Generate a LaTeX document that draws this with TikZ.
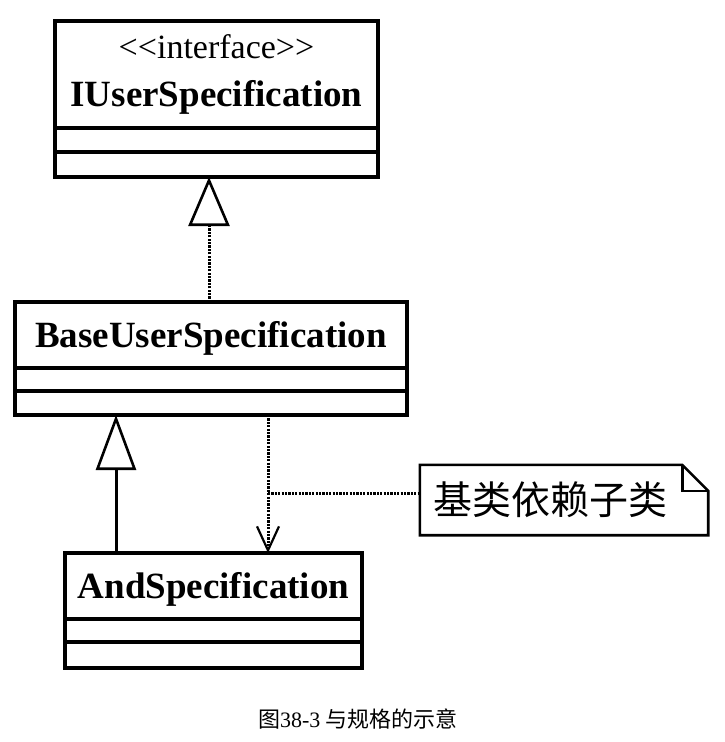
\documentclass[tikz,border=0pt]{standalone}
\usepackage{fontspec}
\setmainfont{Liberation Serif}
\newfontfamily\cjk{Noto Sans CJK SC}
\usepackage{tikz}
\usetikzlibrary{arrows.meta,positioning}

\begin{document}
\begin{tikzpicture}[x=1pt, y=-1pt]
	\tikzstyle{clshead}
	  =[draw, rectangle, line width=3.3pt, outer sep=0pt, inner sep=0pt,
	  font=\fontsize{37}{48}\selectfont\bfseries]
	\tikzstyle{clspart}
	  =[draw, rectangle, line width=3.3pt, outer sep=0pt, inner sep=0pt]
	\tikzstyle{notebox}
	  =[rectangle, inner xsep=13pt, inner ysep=0pt, text width=262pt,
	  minimum height=70pt, align=left, font=\fontsize{39}{44}\selectfont\cjk]
	\tikzstyle{realize}
	  =[line width=3pt, dash pattern=on 2.2pt off 1.2pt,
	  -{Triangle[open, length=49pt, width=41pt, line width=2.6pt]}]
	\tikzstyle{inherit}
	  =[line width=3pt, -{Triangle[open, length=55pt, width=40pt, line width=2.6pt]}]
	\tikzstyle{depend}
	  =[line width=3pt, dash pattern=on 2.2pt off 1.2pt,
	  -{Straight Barb[length=24pt, width=22pt, line width=2.2pt]}]

	\useasboundingbox (0,0) rectangle (724,742);

	\node[clshead, align=center, minimum width=323pt, minimum height=107pt] (iuser)
	  at (216.5,74.5)
	  {{\fontsize{34}{40}\selectfont\mdseries <{}<interface>{}>}\\ IUserSpecification};
	\node[clspart, minimum width=323pt, minimum height=24pt] (iuserattr)
	  [below=0pt of iuser] {};
	\node[clspart, minimum width=323pt, minimum height=25pt] (iuserops)
	  [below=0pt of iuserattr] {};

	\node[clshead, minimum width=392pt, minimum height=66pt,
	  text height=25pt, text depth=0pt] (base)
	  [below=125pt of iuserops, xshift=-5.5pt] {BaseUserSpecification};
	\node[clspart, minimum width=392pt, minimum height=23pt] (baseattr)
	  [below=0pt of base] {};
	\node[clspart, minimum width=392pt, minimum height=24pt] (baseops)
	  [below=0pt of baseattr] {};

	\node[clshead, minimum width=297pt, minimum height=66pt,
	  text height=25pt, text depth=0pt] (andspec)
	  [below=138pt of baseops, xshift=2.5pt] {AndSpecification};
	\node[clspart, minimum width=297pt, minimum height=23pt] (andattr)
	  [below=0pt of andspec] {};
	\node[clspart, minimum width=297pt, minimum height=26pt] (andops)
	  [below=0pt of andattr] {};

	\node[notebox] (note) at (564,500) {基类依赖子类};
	\draw[line width=2.6pt, line join=miter] (note.north west)
	  -- ([xshift=-26pt]note.north east) -- ([yshift=-26pt]note.north east)
	  -- (note.south east) -- (note.south west) -- cycle;
	\draw[line width=2.6pt] ([xshift=-26pt]note.north east)
	  |- ([yshift=-26pt]note.north east);

	\coordinate (notejoin) at ([xshift=57pt]baseops.south |- 0,493);

	\node[font=\fontsize{22}{26}\selectfont] (caption)
	  at (358,719) {{\cjk 图}38-3 {\cjk 与规格的示意}};

	\draw[realize] ([xshift=-2pt]base.north)
	  -- ([xshift=-2pt]base.north |- iuserops.south);
	\draw[inherit] ([xshift=-97.5pt]andspec.north)
	  -- ([xshift=-97.5pt]andspec.north |- baseops.south);
	\draw[depend] ([xshift=57pt]baseops.south)
	  -- ([xshift=57pt]baseops.south |- andspec.north);
	\draw[line width=3pt, dash pattern=on 2.2pt off 1.2pt]
	  (notejoin) -- (notejoin -| note.west);
\end{tikzpicture}
\end{document}
